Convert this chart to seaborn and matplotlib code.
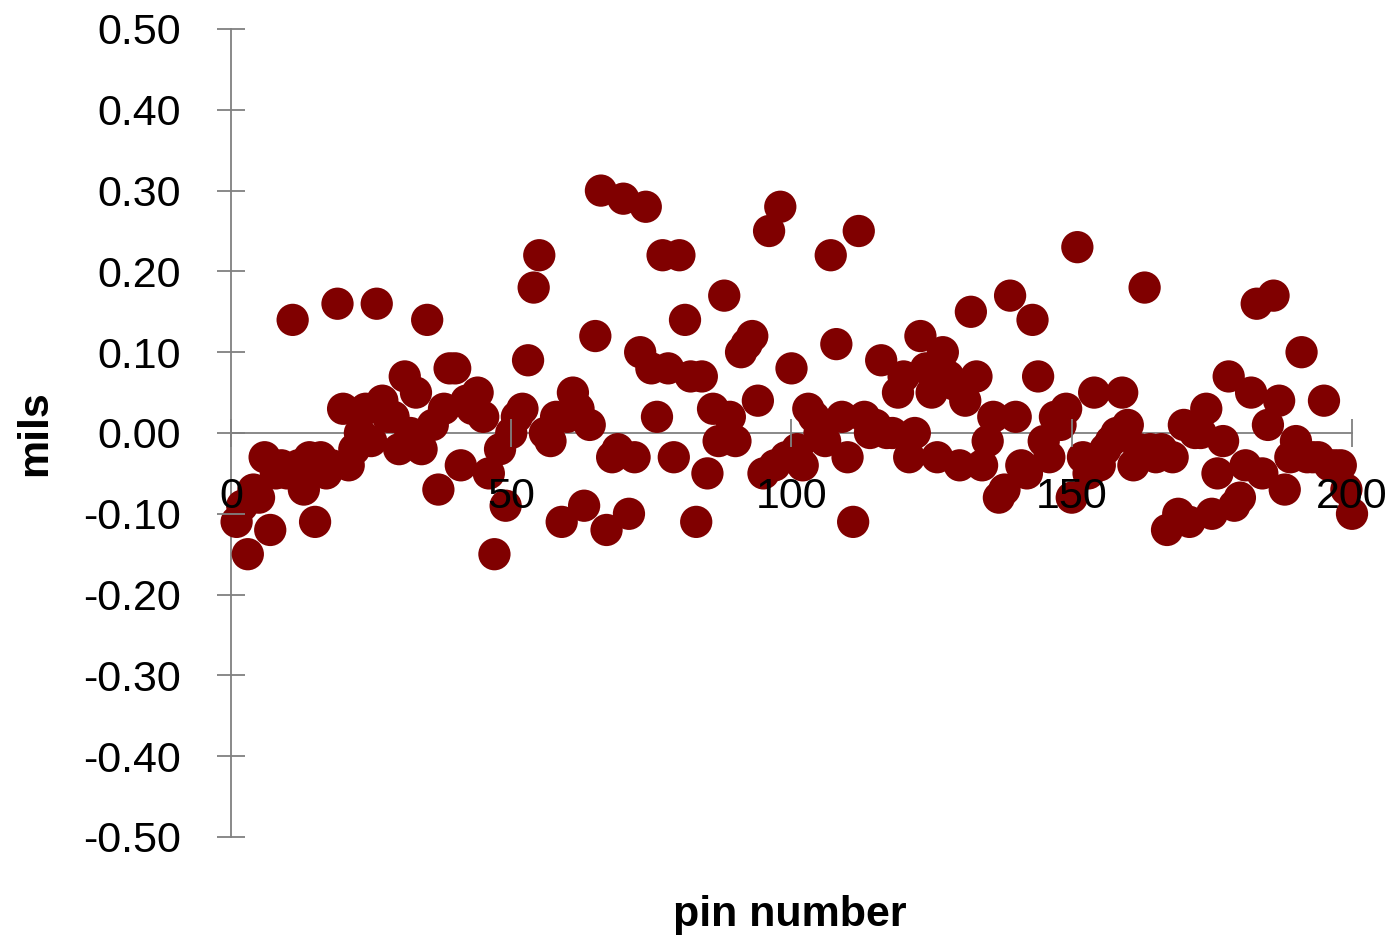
import numpy as np
import pandas as pd
import matplotlib
matplotlib.use('Agg')
import matplotlib.pyplot as plt
import seaborn as sns

sns.set_style("white")
plt.rcParams['font.family'] = ['Liberation Sans', 'DejaVu Sans']

# pin deviation readings (mils), pins 1..200
pin = list(range(1, 201))
mils = [
    -0.11, -0.09, -0.15, -0.07, -0.08, -0.03, -0.12, -0.05, -0.04, -0.05,
    0.14, -0.04, -0.07, -0.03, -0.11, -0.03, -0.05, -0.04, 0.16, 0.03,
    -0.04, -0.02, 0.00, 0.03, -0.01, 0.16, 0.04, 0.02, 0.02, -0.02,
    0.07, 0.00, 0.05, -0.02, 0.14, 0.01, -0.07, 0.03, 0.08, 0.08,
    -0.04, 0.04, 0.03, 0.05, 0.02, -0.05, -0.15, -0.02, -0.09, 0.00,
    0.02, 0.03, 0.09, 0.18, 0.22, 0.00, -0.01, 0.02, -0.11, 0.02,
    0.05, 0.03, -0.09, 0.01, 0.12, 0.30, -0.12, -0.03, -0.02, 0.29,
    -0.10, -0.03, 0.10, 0.28, 0.08, 0.02, 0.22, 0.08, -0.03, 0.22,
    0.14, 0.07, -0.11, 0.07, -0.05, 0.03, -0.01, 0.17, 0.02, -0.01,
    0.10, 0.11, 0.12, 0.04, -0.05, 0.25, -0.04, 0.28, -0.03, 0.08,
    -0.02, -0.04, 0.03, 0.02, 0.00, -0.01, 0.22, 0.11, 0.02, -0.03,
    -0.11, 0.25, 0.02, 0.00, 0.01, 0.09, 0.00, 0.00, 0.05, 0.07,
    -0.03, 0.00, 0.12, 0.08, 0.05, -0.03, 0.10, 0.07, 0.06, -0.04,
    0.04, 0.15, 0.07, -0.04, -0.01, 0.02, -0.08, -0.07, 0.17, 0.02,
    -0.04, -0.05, 0.14, 0.07, -0.01, -0.03, 0.02, 0.01, 0.03, -0.08,
    0.23, -0.03, -0.05, 0.05, -0.04, -0.02, -0.01, 0.00, 0.05, 0.01,
    -0.04, -0.02, 0.18, -0.02, -0.03, -0.02, -0.12, -0.03, -0.10, 0.01,
    -0.11, 0.00, 0.00, 0.03, -0.10, -0.05, -0.01, 0.07, -0.09, -0.08,
    -0.04, 0.05, 0.16, -0.05, 0.01, 0.17, 0.04, -0.07, -0.03, -0.01,
    0.10, -0.03, -0.03, -0.03, 0.04, -0.04, -0.04, -0.04, -0.07, -0.10,
]
x_ticks = [0, 50, 100, 150, 200]
y_ticks = [-0.5, -0.4, -0.3, -0.2, -0.1, 0.0, 0.1, 0.2, 0.3, 0.4, 0.5]

df = pd.DataFrame({'pin': pin, 'mils': mils})

fig = plt.figure(figsize=(13.95, 9.41), dpi=100)
ax = fig.add_axes([231 / 1395, 1 - 837 / 941, (1352 - 231) / 1395, (837 - 29) / 941])

sns.scatterplot(data=df, x='pin', y='mils', ax=ax, color='#800000',
                s=540, edgecolor='none', linewidth=0, legend=False,
                zorder=3, clip_on=False)

ax.set_xlim(0, 200)
ax.set_ylim(-0.5, 0.5)
ax.set_xticks(x_ticks)
ax.set_yticks(y_ticks)
ax.set_yticklabels([f'{v:.2f}' for v in y_ticks])

# axes cross at the origin, spines under the dots, tick labels on top
ax.spines['bottom'].set_position(('data', 0))
ax.spines['top'].set_visible(False)
ax.spines['right'].set_visible(False)
for sp in ['left', 'bottom']:
    ax.spines[sp].set_color('#808080')
    ax.spines[sp].set_linewidth(1.3)
    ax.spines[sp].set_zorder(2)
ax.xaxis.set_zorder(5)
ax.yaxis.set_zorder(5)

ax.tick_params(axis='both', direction='inout', length=20, width=1.3, color='#808080',
               labelsize=31, labelcolor='black', bottom=True, left=True)
ax.tick_params(axis='y', pad=26)
ax.tick_params(axis='x', pad=22)

ax.set_xlabel('')
ax.set_ylabel('')
fig.text(790 / 1395, 1 - 915 / 941, 'pin number', ha='center', va='center',
         fontsize=31, fontweight='bold', color='black')
fig.text(35 / 1395, 1 - 433 / 941, 'mils', ha='center', va='center',
         fontsize=31, fontweight='bold', rotation=90, color='black')

plt.savefig('out.png', dpi=100)
